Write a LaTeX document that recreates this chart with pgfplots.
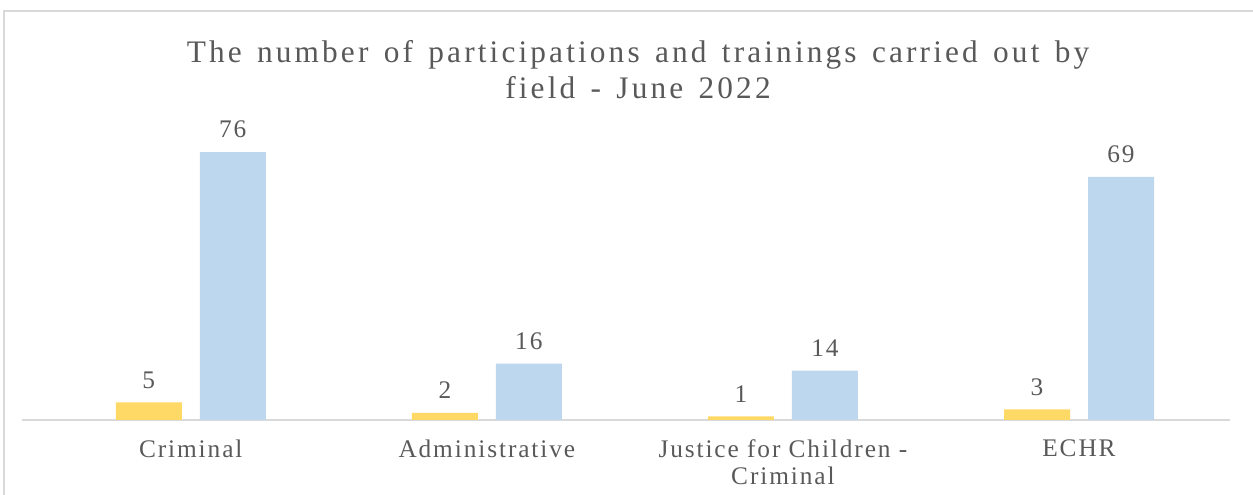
\documentclass[border=0pt]{standalone}
\usepackage{fontspec}
\setmainfont{Liberation Serif}
\newfontfamily\lblfont[LetterSpace=7.5]{Liberation Serif}
\newfontfamily\ttlfont[LetterSpace=10,WordSpace=1.4]{Liberation Serif}
\usepackage{pgfplots}
\pgfplotsset{compat=1.18}
\definecolor{ygold}{HTML}{FFD966}
\definecolor{lblue}{HTML}{BDD7EE}
\definecolor{txtgray}{HTML}{595959}
\definecolor{axgray}{HTML}{D9D9D9}
\begin{document}
\begin{tikzpicture}[x=0.75pt,y=0.75pt]
\useasboundingbox (0,0) rectangle (1253,495);
\draw[axgray, line width=1.5pt] (4,0) -- (4,484) -- (1300,484);
\node[txtgray, font=\ttlfont\fontsize{23.5}{27}\selectfont, align=center, anchor=center] at (638,495-70) {The number of participations and trainings carried out by\\field - June 2022};
\begin{axis}[
  at={(22*0.75pt,75*0.75pt)}, anchor=south west,
  scale only axis, width=906pt, height=211.5pt,
  xmin=-0.57, xmax=3.51, ymin=0, ymax=80,
  axis y line=none, axis x line*=bottom,
  x axis line style={axgray, line width=1.2pt, -},
  xtick={0,1,2,3}, xtick style={draw=none},
  xticklabels={Criminal, Administrative, {Justice for Children -\\Criminal}, ECHR},
  xticklabel style={txtgray, font=\lblfont\fontsize{19}{20}\selectfont, align=center, anchor=north, yshift=-7pt},
  ybar, bar width=49.5pt,
  nodes near coords,
  /pgf/number format/assume math mode=true,
  every node near coord/.append style={txtgray, font=\lblfont\fontsize{19}{20}\selectfont, yshift=7pt},
  clip=false,
]
\addplot[fill=ygold, draw=none, bar shift=-31.5pt] coordinates {(0,5) (1,2) (2,1) (3,3)};
\addplot[fill=lblue, draw=none, bar shift=31.5pt] coordinates {(0,76) (1,16) (2,14) (3,69)};
\end{axis}
\end{tikzpicture}
\end{document}
